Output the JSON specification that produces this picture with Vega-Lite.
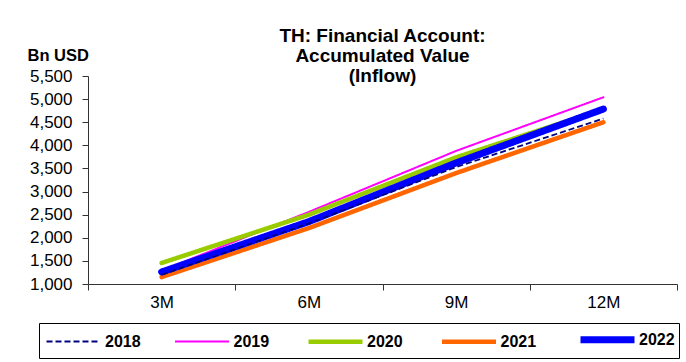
{
  "$schema": "https://vega.github.io/schema/vega-lite/v6.json",
  "width": 589,
  "height": 208,
  "autosize": "none",
  "padding": {"left": 88, "top": 76, "right": 9, "bottom": 78},
  "background": "white",
  "title": {
    "text": ["TH: Financial Account:", "Accumulated Value", "(Inflow)"],
    "font": "Liberation Sans",
    "fontSize": 19,
    "fontWeight": "bold",
    "lineHeight": 20,
    "color": "black",
    "anchor": "middle",
    "frame": "group",
    "baseline": "alphabetic",
    "offset": 0,
    "dy": 54
  },
  "config": {
    "view": {"stroke": null},
    "font": "Liberation Sans"
  },
  "data": {
    "values": [
      {"period": "3M", "year": "2019", "value": 1290},
      {"period": "6M", "year": "2019", "value": 2560},
      {"period": "9M", "year": "2019", "value": 3880},
      {"period": "12M", "year": "2019", "value": 5040},
      {"period": "3M", "year": "2020", "value": 1455},
      {"period": "6M", "year": "2020", "value": 2500},
      {"period": "9M", "year": "2020", "value": 3740},
      {"period": "12M", "year": "2020", "value": 4780},
      {"period": "3M", "year": "2021", "value": 1150},
      {"period": "6M", "year": "2021", "value": 2210},
      {"period": "9M", "year": "2021", "value": 3400},
      {"period": "12M", "year": "2021", "value": 4500},
      {"period": "3M", "year": "2022", "value": 1260},
      {"period": "6M", "year": "2022", "value": 2350},
      {"period": "9M", "year": "2022", "value": 3620},
      {"period": "12M", "year": "2022", "value": 4785},
      {"period": "3M", "year": "2018", "value": 1200},
      {"period": "6M", "year": "2018", "value": 2310},
      {"period": "9M", "year": "2018", "value": 3530},
      {"period": "12M", "year": "2018", "value": 4580}
    ]
  },
  "encoding": {
    "x": {
      "field": "period",
      "type": "nominal",
      "bandPosition": 0.5,
      "sort": ["3M", "6M", "9M", "12M"],
      "scale": {"paddingInner": 0, "paddingOuter": 0},
      "axis": {
        "title": null,
        "labelAngle": 0,
        "labelFont": "Liberation Sans",
        "labelFontSize": 17,
        "labelColor": "black",
        "labelPadding": 4,
        "tickBand": "extent",
        "tickSize": 6,
        "tickColor": "#333333",
        "domainColor": "#333333",
        "grid": false
      }
    },
    "y": {
      "field": "value",
      "type": "quantitative",
      "scale": {"domain": [1000, 5500], "nice": false, "zero": false},
      "axis": {
        "title": "Bn USD",
        "titleAngle": 0,
        "titleAlign": "left",
        "titleBaseline": "alphabetic",
        "titleX": -61,
        "titleY": -16,
        "titleFont": "Liberation Sans",
        "titleFontSize": 16.5,
        "titleFontWeight": "bold",
        "titleColor": "black",
        "values": [1000, 1500, 2000, 2500, 3000, 3500, 4000, 4500, 5000, 5500],
        "format": ",d",
        "labelFont": "Liberation Sans",
        "labelFontSize": 17,
        "labelColor": "black",
        "labelPadding": 10,
        "tickSize": 6,
        "tickColor": "#333333",
        "domainColor": "#333333",
        "grid": false
      }
    },
    "color": {
      "field": "year",
      "type": "nominal",
      "scale": {
        "domain": ["2018", "2019", "2020", "2021", "2022"],
        "range": ["#000080", "#FF00FF", "#99CC00", "#FF6600", "#0000FF"]
      },
      "legend": {
        "title": null,
        "orient": "none",
        "direction": "horizontal",
        "columns": 5,
        "legendX": -49,
        "legendY": 247,
        "padding": 4,
        "strokeColor": "black",
        "fillColor": "white",
        "symbolType": "M-1,0H5",
        "symbolSize": 324,
        "labelFont": "Liberation Sans",
        "labelFontSize": 16,
        "labelFontWeight": "bold",
        "labelColor": "black",
        "labelOffset": 37,
        "columnPadding": 29.5
      }
    },
    "strokeWidth": {
      "field": "year",
      "type": "nominal",
      "scale": {
        "type": "ordinal",
        "domain": ["2018", "2019", "2020", "2021", "2022"],
        "range": [1.8, 2, 4.5, 4.5, 7]
      }
    },
    "strokeDash": {
      "field": "year",
      "type": "nominal",
      "scale": {
        "domain": ["2018", "2019", "2020", "2021", "2022"],
        "range": [[6, 3], [1, 0], [1, 0], [1, 0], [1, 0]]
      }
    }
  },
  "layer": [
    {
      "transform": [{"filter": "datum.year != '2018'"}],
      "mark": {"type": "line", "strokeCap": "round"}
    },
    {
      "transform": [{"filter": "datum.year == '2018'"}],
      "mark": {"type": "line", "strokeCap": "butt"}
    }
  ]
}
